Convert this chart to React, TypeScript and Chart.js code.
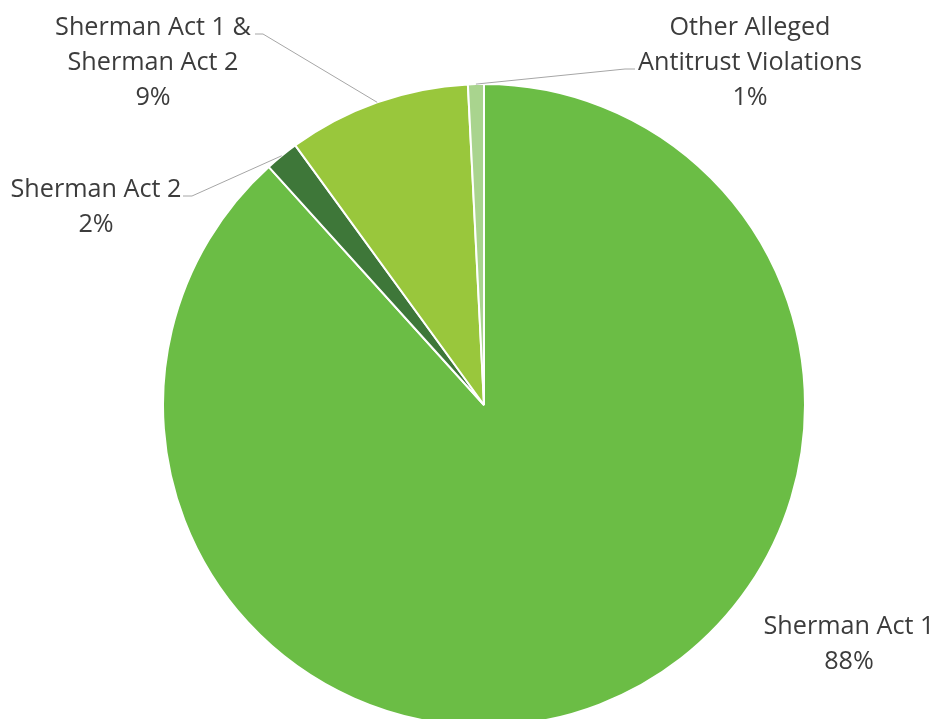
import React, { useEffect, useRef } from "react";
import { Chart, registerables } from "chart.js";

Chart.register(...registerables);

// ---- data ----
const categories = [
  "Sherman Act 1",
  "Sherman Act 2",
  "Sherman Act 1 & Sherman Act 2",
  "Other Alleged Antitrust Violations",
];
const shares = [88.3, 1.7, 9.2, 0.8];
// label text lines (category name split as in the picture)
const labelLines = [
  ["Sherman Act 1"],
  ["Sherman Act 2"],
  ["Sherman Act 1 &", "Sherman Act 2"],
  ["Other Alleged", "Antitrust Violations"],
];
const sliceColors = ["#6BBD45", "#3E7739", "#99C73C", "#A9D48E"];

// ---- label layout (position of text and leader elbows) ----
type LabelLayout = { cx: number; baseline: number; elbow?: [number, number][] };
const labelLayout: LabelLayout[] = [
  { cx: 849, baseline: 634 },
  { cx: 96, baseline: 197, elbow: [[183, 196], [192, 196]] },
  { cx: 153, baseline: 35, elbow: [[255, 34], [263, 34]] },
  { cx: 750, baseline: 35, elbow: [[635, 69], [625, 69]] },
];
const LINE_H = 35;
const FONT = "25.2px 'Open Sans'";

const labelPlugin = {
  id: "pieLabels",
  afterDatasetsDraw(chart: any) {
    const ctx = chart.ctx as CanvasRenderingContext2D;
    const meta = chart.getDatasetMeta(0);
    const data = chart.data.datasets[0].data as number[];
    const total = data.reduce((a, b) => a + b, 0);
    ctx.save();
    meta.data.forEach((arc: any, i: number) => {
      const lay = labelLayout[i];
      const { x, y, startAngle, endAngle, outerRadius } = arc.getProps(
        ["x", "y", "startAngle", "endAngle", "outerRadius"],
        true
      );
      if (lay.elbow) {
        const mid = (startAngle + endAngle) / 2;
        const ax = x + Math.cos(mid) * outerRadius;
        const ay = y + Math.sin(mid) * outerRadius;
        ctx.strokeStyle = "#A6A6A6";
        ctx.lineWidth = 1;
        ctx.beginPath();
        ctx.moveTo(lay.elbow[0][0], lay.elbow[0][1]);
        ctx.lineTo(lay.elbow[1][0], lay.elbow[1][1]);
        ctx.lineTo(ax, ay);
        ctx.stroke();
      }
      const pct = Math.round((data[i] / total) * 100) + "%";
      const lines = [...labelLines[i], pct];
      ctx.fillStyle = "#3C3C3C";
      ctx.font = FONT;
      ctx.textAlign = "center";
      ctx.textBaseline = "alphabetic";
      lines.forEach((t, k) => {
        ctx.fillText(t, lay.cx, lay.baseline + k * LINE_H);
      });
    });
    ctx.restore();
  },
};

export default function App() {
  const ref = useRef<HTMLCanvasElement | null>(null);
  useEffect(() => {
    if (!ref.current) return;
    const chart = new Chart(ref.current, {
      type: "pie",
      data: {
        labels: categories,
        datasets: [
          {
            data: shares,
            backgroundColor: sliceColors,
            borderColor: "#FFFFFF",
            borderWidth: 2,
            radius: 321,
          } as any,
        ],
      },
      options: {
        responsive: false,
        animation: false,
        events: [],
        layout: { padding: { left: 163, right: 132, top: 91, bottom: 0 } },
        plugins: {
          legend: { display: false },
          tooltip: { enabled: false },
        },
      },
      plugins: [labelPlugin],
    });
    return () => chart.destroy();
  }, []);
  return (
    <div
      style={{
        position: "fixed",
        left: 0,
        top: 0,
        width: 937,
        height: 719,
        overflow: "hidden",
        background: "#fff",
      }}
    >
      <canvas ref={ref} width={937} height={719} style={{ display: "block" }} />
    </div>
  );
}
